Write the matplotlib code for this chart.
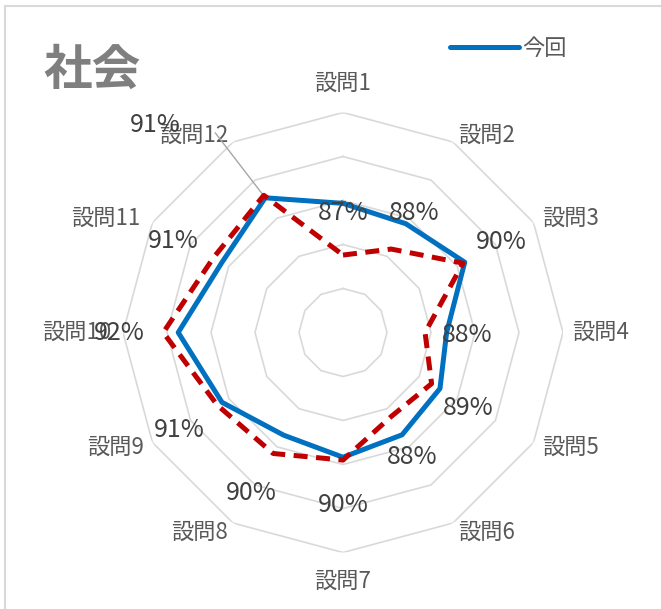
import numpy as np
import matplotlib
matplotlib.use("Agg")
import matplotlib.pyplot as plt
from matplotlib.patches import Rectangle
from matplotlib.lines import Line2D

plt.rcParams['font.family'] = ['Noto Sans CJK JP', 'DejaVu Sans']

# data (radial position, outer ring = 1.0)
questions = ['設問1', '設問2', '設問3', '設問4', '設問5', '設問6',
             '設問7', '設問8', '設問9', '設問10', '設問11', '設問12']
current = [0.587, 0.571, 0.639, 0.471, 0.509, 0.537,
           0.567, 0.539, 0.635, 0.749, 0.636, 0.707]
previous = [0.352, 0.438, 0.630, 0.373, 0.465, 0.440,
            0.580, 0.635, 0.660, 0.817, 0.680, 0.720]
current_labels = ['87%', '88%', '90%', '88%', '89%', '88%',
                  '90%', '90%', '91%', '92%', '91%', '91%']
rings = [0.2, 0.4, 0.6, 0.8, 1.0]

# data label offsets in pixels (x right, y up) from each blue point
label_offsets = [(0, -10), (8, 11), (37, 20), (21, -2), (28, -20), (10, -22),
                 (0, -48), (-32, -58), (-43, -28), (-59, 0), (-49, 22), (-110, 73)]
# category label offsets in pixels from the outer ring corner
cat_offsets = [(0, 29), (5, 7), (9, 4), (9, 0), (9, -5), (5, -9),
               (0, -29), (-5, -9), (-8, -5), (-12, 0), (-12, 4), (-5, 7)]
cat_align = ['center', 'left', 'left', 'left', 'left', 'left',
             'center', 'right', 'right', 'right', 'right', 'right']

n = len(questions)
angles = np.linspace(0, 2 * np.pi, n, endpoint=False)
closed = np.append(angles, angles[0])

fig = plt.figure(figsize=(6.61, 6.09), dpi=100)
fig.patch.set_facecolor('white')

# chart border
fig.patches.append(Rectangle((5 / 661, -0.1), 1.2, 1.1 - 6 / 609, transform=fig.transFigure,
                             fill=False, edgecolor='#d9d9d9', linewidth=1.5))

ax = fig.add_axes([123 / 661, 56.5 / 609, 440 / 661, 440 / 609], projection='polar')
ax.set_theta_zero_location('N')
ax.set_theta_direction(-1)
ax.set_ylim(0, 1)
ax.axis('off')

for r in rings:
    ax.plot(closed, [r] * (n + 1), color='#d9d9d9', lw=1.2, zorder=1)

ax.plot(closed, current + current[:1], color='#0070C0', lw=3.6,
        solid_joinstyle='round', zorder=3)
ax.plot(closed, previous + previous[:1], color='#C00000', lw=3.6,
        dashes=(2.8, 1.7), dash_capstyle='butt', zorder=4)

for ang, q, off, ha in zip(angles, questions, cat_offsets, cat_align):
    ax.annotate(q, xy=(ang, 1.0), xytext=off, textcoords='offset pixels',
                ha=ha, va='center', fontsize=16, color='#595959')

# leader line for the last data label
ax.annotate('', xy=(angles[-1], current[-1]), xytext=(-50, 65), textcoords='offset pixels',
            arrowprops=dict(arrowstyle='-', color='#a6a6a6', lw=1.0, shrinkA=0, shrinkB=0))

for i, (ang, val, lab) in enumerate(zip(angles, current, current_labels)):
    dx, dy = label_offsets[i]
    ax.annotate(lab, xy=(ang, val), xytext=(dx, dy), textcoords='offset pixels',
                ha='center', va='center', fontsize=18, color='#404040', zorder=5)

fig.text(92 / 661, 1 - 70 / 609, '社会', ha='center', va='center',
         fontsize=35, fontweight='bold', color='#7f7f7f')

handle = Line2D([], [], color='#0070C0', lw=3.6, solid_capstyle='round')
fig.legend([handle], ['今回'], loc='center left', bbox_to_anchor=(450 / 661, 1 - 48 / 609),
           frameon=False, fontsize=16, handlelength=3.1, handletextpad=0.15,
           borderpad=0, borderaxespad=0, labelcolor='#595959')

fig.savefig('out.png', dpi=100)
